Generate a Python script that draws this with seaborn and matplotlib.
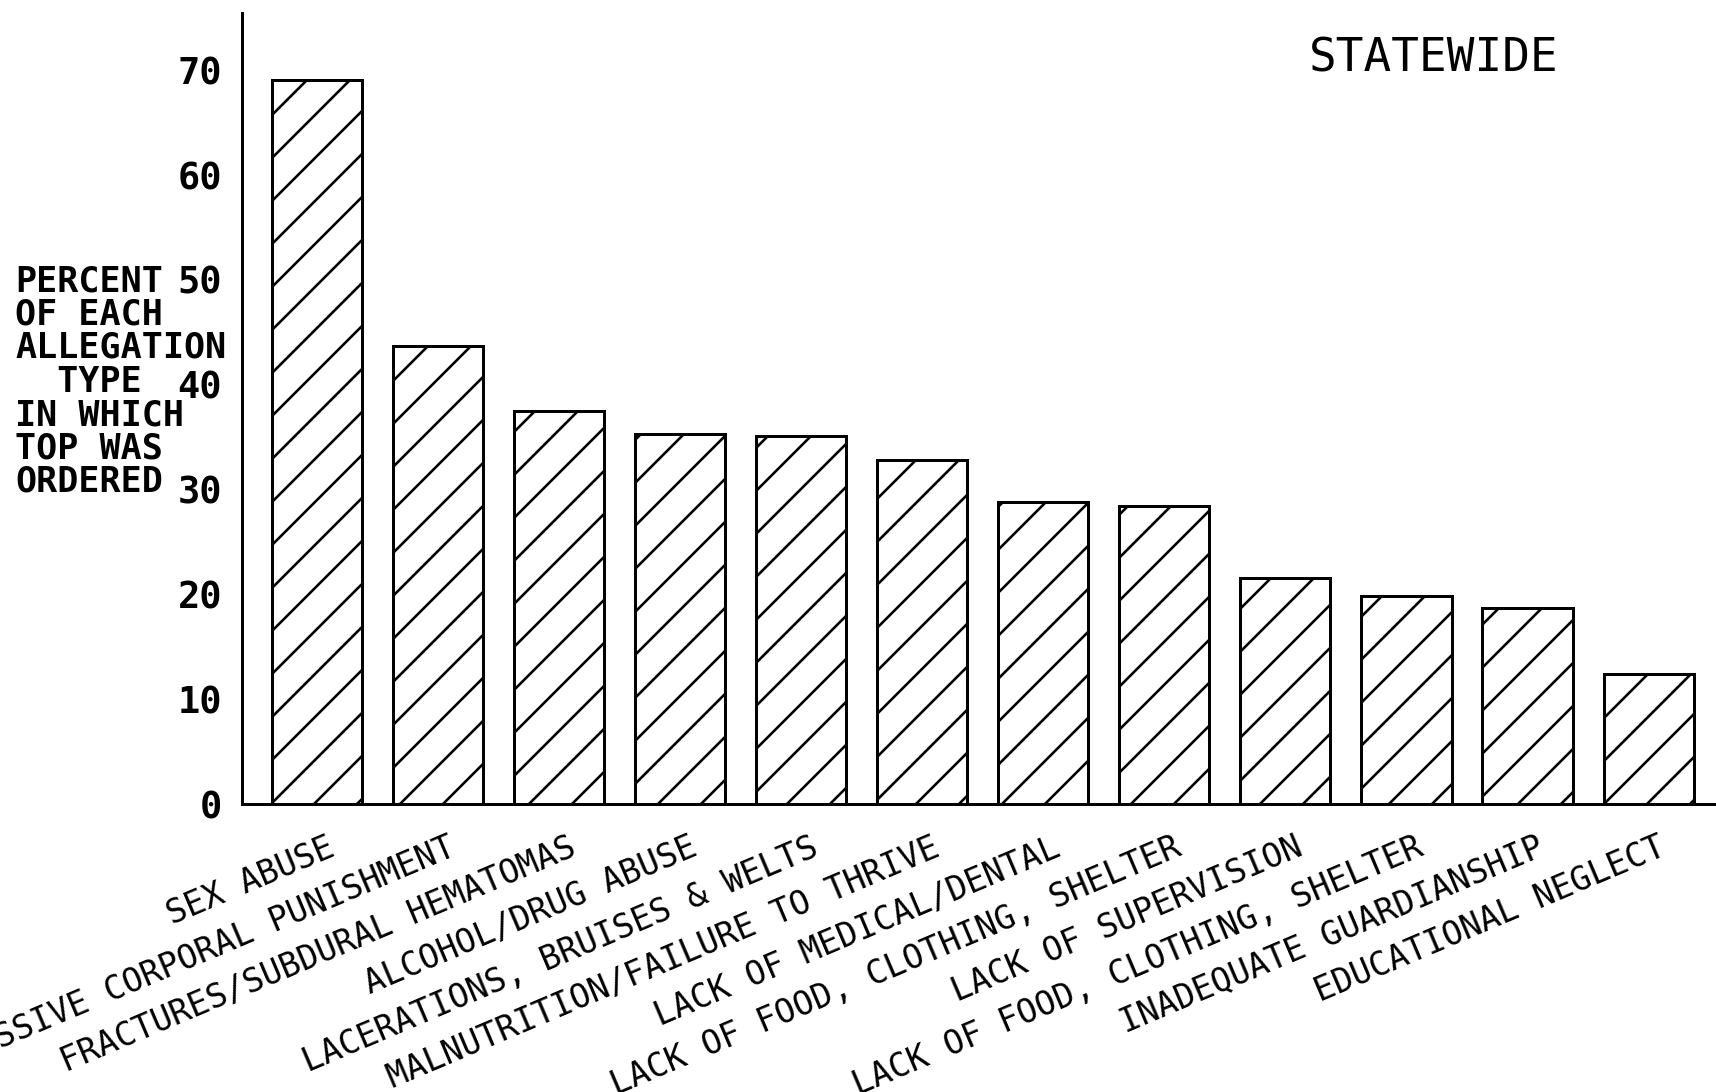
import matplotlib
matplotlib.use("Agg")
import matplotlib.pyplot as plt
import matplotlib.transforms as mtransforms
import pandas as pd
import seaborn as sns

# ---- data -----------------------------------------------------------------
allegation_types = [
    "SEX ABUSE",
    "EXCESSIVE CORPORAL PUNISHMENT",
    "FRACTURES/SUBDURAL HEMATOMAS",
    "ALCOHOL/DRUG ABUSE",
    "LACERATIONS, BRUISES & WELTS",
    "MALNUTRITION/FAILURE TO THRIVE",
    "LACK OF MEDICAL/DENTAL",
    "LACK OF FOOD, CLOTHING, SHELTER",
    "LACK OF SUPERVISION",
    "LACK OF FOOD, CLOTHING, SHELTER",
    "INADEQUATE GUARDIANSHIP",
    "EDUCATIONAL NEGLECT",
]
percent_top_ordered = [69.0, 43.7, 37.5, 35.3, 35.1, 32.8, 28.8, 28.4, 21.5, 19.8, 18.7, 12.4]
y_ticks = [0, 10, 20, 30, 40, 50, 60, 70]
y_label_lines = ["PERCENT", "OF EACH", "ALLEGATION", "  TYPE", "IN WHICH", "TOP WAS", "ORDERED"]
panel_title = "STATEWIDE"

# ---- canvas ---------------------------------------------------------------
DPI = 258
W, H = 1716, 1092


def pt(px):
    """Convert a length in output pixels to points."""
    return px * 72.0 / DPI


sns.set_style("white")
plt.rcParams["font.family"] = ["DejaVu Sans Mono", "DejaVu Sans"]
plt.rcParams["hatch.color"] = "black"
plt.rcParams["hatch.linewidth"] = pt(2.6)

fig = plt.figure(figsize=(W / DPI, H / DPI), dpi=DPI, facecolor="white")
ax = fig.add_axes([242 / W, 1 - 804 / H, 1 - 242 / W, (804 - 13) / H])
ax.set_facecolor("white")

df = pd.DataFrame({
    "rank": range(len(allegation_types)),
    "allegation": allegation_types,
    "percent": percent_top_ordered,
})

sns.barplot(
    data=df, x="rank", y="percent", ax=ax,
    color="white", saturation=1, edgecolor="black",
    linewidth=pt(3), hatch="//", width=0.744, errorbar=None,
)

# ---- axes styling ---------------------------------------------------------
for side in ("top", "right"):
    ax.spines[side].set_visible(False)
for side in ("left", "bottom"):
    ax.spines[side].set_linewidth(pt(3))
    ax.spines[side].set_color("black")

ax.set_xlim(-0.62, 11.557)
ax.set_ylim(0, 75.4)
ax.set_xlabel("")
ax.set_ylabel("")

ax.set_yticks(y_ticks)
ax.tick_params(axis="y", direction="in", length=pt(16), width=pt(3), pad=pt(20),
               labelsize=pt(37), colors="black")
for lbl in ax.get_yticklabels():
    lbl.set_fontweight("bold")

ax.set_xticks(range(len(allegation_types)))
ax.set_xticklabels(allegation_types, rotation=23, ha="right", va="top",
                   rotation_mode="anchor", fontsize=pt(33))
ax.tick_params(axis="x", length=0, pad=pt(27), colors="black")
shift = mtransforms.ScaledTranslation(9 / DPI, 0, fig.dpi_scale_trans)
for lbl in ax.get_xticklabels():
    lbl.set_transform(lbl.get_transform() + shift)

# ---- stacked y-axis caption and panel title -------------------------------
for i, line in enumerate(y_label_lines):
    fig.text(15 / W, 1 - (281 + 33.5 * i) / H, line, ha="left", va="center",
             fontsize=pt(35), fontweight="bold", color="black")

fig.text(1434 / W, 1 - 59 / H, panel_title, ha="center", va="center",
         fontsize=pt(46), color="black")

fig.savefig("out.png", dpi=DPI, facecolor="white")
